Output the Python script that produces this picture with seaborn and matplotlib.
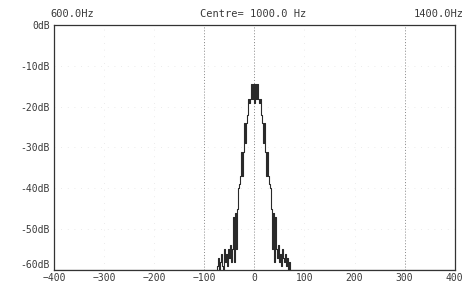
import matplotlib
matplotlib.use("Agg")
import matplotlib.pyplot as plt
import seaborn as sns
import pandas as pd

# spectrum (offset from centre in Hz, level in dB)
offset_hz = ([-400]
             + [-80, -78, -76, -74, -72, -70, -68, -66, -64, -62,
                -60, -58, -56, -54, -52, -50, -48, -46, -44, -42,
                -40, -38, -36, -34, -32, -30, -28, -26, -24, -22,
                -20, -18, -16, -14, -12, -10, -8, -6, -4, -2]
             + [0]
             + [2, 4, 6, 8, 10, 12, 14, 16, 18, 20,
                22, 24, 26, 28, 30, 32, 34, 36, 38, 40,
                42, 44, 46, 48, 50, 52, 54, 56, 58, 60,
                62, 64, 66, 68, 70, 72, 74, 76, 78, 80]
             + [400])
level_db = ([-60]
            + [-60, -60, -60, -59, -57, -60, -58, -56, -59, -60,
               -55, -58, -56, -59, -55, -57, -54, -58, -55, -47,
               -58, -46, -55, -45, -40, -39, -37, -31, -37, -31,
               -24, -29, -24, -22, -18, -19, -18, -14.5, -18, -14.5]
            + [-19]
            + [-14.5, -18, -14.5, -18, -19, -18, -22, -24, -29, -24,
               -31, -37, -31, -37, -39, -40, -45, -55, -46, -58,
               -47, -55, -57, -54, -58, -56, -59, -55, -57, -58,
               -56, -59, -57, -60, -58, -60, -60, -60, -60, -60]
            + [-60])

x_ticks = [-400, -300, -200, -100, 0, 100, 200, 300, 400]
y_ticks = [0, -10, -20, -30, -40, -50, -60]
y_labels = ["0dB", "-10dB", "-20dB", "-30dB", "-40dB", "-50dB", "-60dB"]
marked_lines = [-100, 0, 300]

df = pd.DataFrame({"offset": offset_hz, "level": level_db})

sns.set_style("white")
plt.rcParams["font.family"] = ["DejaVu Sans Mono", "DejaVu Sans"]

fig = plt.figure(figsize=(4.65, 2.85), dpi=100)
ax = fig.add_axes([0.116, 0.053, 0.862, 0.859])

# faint grid dots + the three dotted markers
for xv in x_ticks[1:-1]:
    ax.axvline(xv, color="#e4e4e4", lw=0.6, ls=(0, (1, 7)), zorder=0)
for yv in y_ticks[1:-1]:
    ax.axhline(yv, color="#e4e4e4", lw=0.6, ls=(0, (1, 7)), zorder=0)
for xv in marked_lines:
    ax.axvline(xv, color="#8a8a8a", lw=0.7, ls=(0, (1, 2)), zorder=1)

sns.lineplot(data=df, x="offset", y="level", ax=ax, color="#2a2a2a",
             lw=0.8, drawstyle="steps-mid", zorder=3)

ax.set_xlim(-400, 400)
ax.set_ylim(-60, 0)
ax.set_xticks(x_ticks)
ax.set_yticks(y_ticks)
ax.set_yticklabels(y_labels)
ax.tick_params(axis="y", labelsize=7, length=0, pad=3, colors="#3a3a3a")
ax.tick_params(axis="x", labelsize=7, length=0, pad=2.5, colors="#3a3a3a")
# nudge the bottom dB label up a touch so it clears the -400 label
ax.get_yticklabels()[-1].set_va("bottom")
ax.set_xlabel("")
ax.set_ylabel("")
for s in ax.spines.values():
    s.set_color("#333333")
    s.set_linewidth(0.9)

fig.text(0.108, 0.951, "600.0Hz", fontsize=7.5, color="#3a3a3a", ha="left", va="center")
fig.text(0.545, 0.951, "Centre= 1000.0 Hz", fontsize=7.5, color="#3a3a3a", ha="center", va="center")
fig.text(0.997, 0.951, "1400.0Hz", fontsize=7.5, color="#3a3a3a", ha="right", va="center")

fig.savefig("out.png", dpi=100)
